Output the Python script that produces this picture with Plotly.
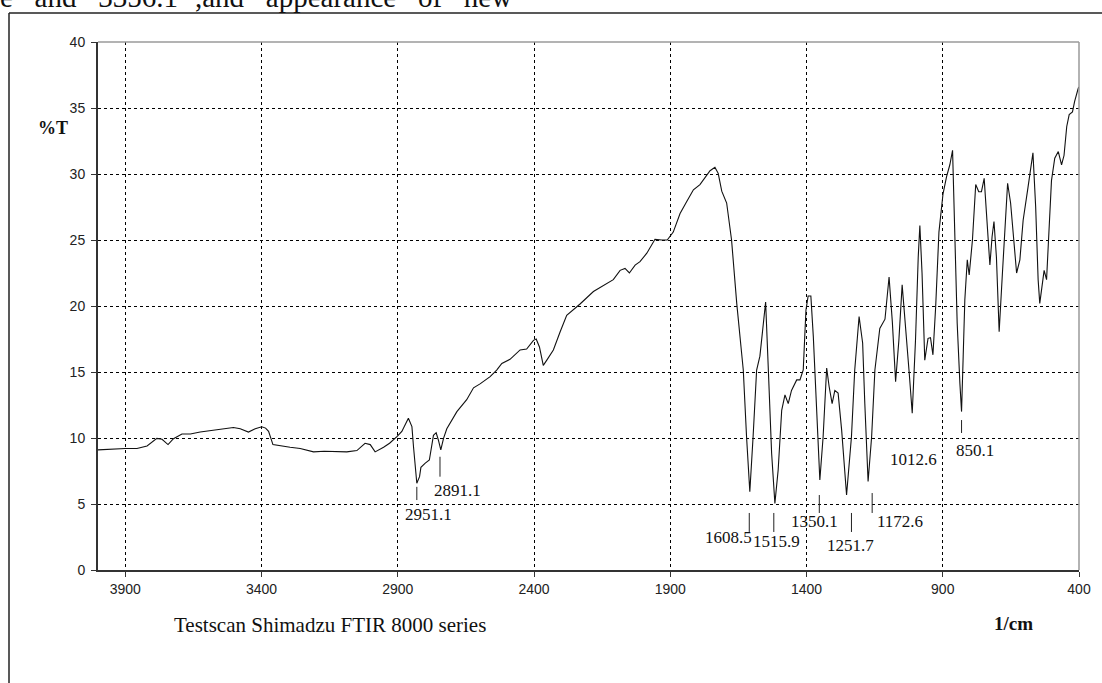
import plotly.graph_objects as go

# ---- spectrum ----
wavenumber = [4000, 3960, 3900, 3857, 3820, 3784, 3765, 3743, 3723, 3692, 3661, 3625, 3576, 3539,
              3503, 3478, 3448, 3423, 3399, 3385, 3374, 3358, 3331, 3295, 3258, 3209, 3170, 3136,
              3087, 3050, 3020, 3001, 2983, 2952, 2930, 2903, 2885, 2861, 2848, 2842, 2830, 2820,
              2815, 2800, 2784, 2769, 2759, 2751, 2742, 2732, 2720, 2683, 2647, 2622, 2598, 2561,
              2537, 2518, 2488, 2451, 2427, 2402, 2392, 2380, 2366, 2353, 2329, 2304, 2280, 2231,
              2182, 2109, 2084, 2066, 2050, 2029, 2011, 1986, 1956, 1931, 1911, 1889, 1864, 1840,
              1815, 1791, 1773, 1754, 1736, 1724, 1711, 1693, 1675, 1656, 1638, 1632, 1620, 1608,
              1596, 1583, 1571, 1559, 1550, 1540, 1528, 1516, 1504, 1491, 1479, 1467, 1455, 1436,
              1424, 1412, 1402, 1394, 1384, 1375, 1363, 1351, 1339, 1326, 1317, 1306, 1296, 1284,
              1271, 1253, 1235, 1223, 1207, 1194, 1186, 1174, 1161, 1149, 1131, 1112, 1097, 1085,
              1073, 1061, 1049, 1037, 1023, 1012, 1000, 990, 984, 976, 966, 954, 945, 936, 926,
              914, 899, 886, 874, 864, 856, 847, 837, 831, 825, 819, 810, 803, 791, 779, 768, 758,
              748, 739, 727, 719, 712, 703, 693, 681, 672, 662, 651, 642, 629, 617, 605, 587, 569,
              559, 550, 544, 534, 528, 519, 511, 501, 489, 476, 464, 455, 445, 436, 424, 416, 404, 401]
transmittance = [9.1, 9.15, 9.2, 9.2, 9.4, 9.97, 9.9, 9.5, 9.95, 10.3, 10.3, 10.45, 10.6, 10.7,
                 10.8, 10.7, 10.45, 10.7, 10.85, 10.75, 10.5, 9.5, 9.4, 9.3, 9.2, 8.95, 9.0, 9.0,
                 8.95, 9.05, 9.6, 9.5, 8.95, 9.3, 9.6, 10.1, 10.5, 11.5, 10.86, 9.3, 6.57, 7.07,
                 7.78, 8.08, 8.33, 10.2, 10.4, 9.85, 9.1, 9.97, 10.7, 12.0, 12.9, 13.8, 14.1, 14.65,
                 15.15, 15.65, 15.96, 16.67, 16.74, 17.4, 17.5, 16.9, 15.5, 15.9, 16.67, 18.05, 19.3, 20.15,
                 21.1, 22.0, 22.7, 22.85, 22.5, 23.1, 23.36, 24.0, 25.05, 25.0, 25.0, 25.6, 27.0, 27.9,
                 28.8, 29.2, 29.67, 30.25, 30.5, 30.05, 28.7, 27.8, 25.0, 20.2, 16.4, 15.15, 10.1, 5.93,
                 10.1, 15.15, 16.2, 18.4, 20.3, 15.15, 8.84, 5.05, 7.58, 12.1, 13.26, 12.6, 13.6, 14.4,
                 14.4, 15.15, 19.7, 20.76, 20.76, 17.7, 12.6, 6.82, 10.1, 15.3, 13.9, 12.6, 13.6, 13.4,
                 10.6, 5.68, 10.1, 15.15, 19.2, 17.2, 12.6, 6.7, 10.1, 15.15, 18.3, 19.0, 22.2, 18.8,
                 14.27, 17.4, 21.6, 18.7, 14.9, 11.87, 17.4, 23.7, 26.1, 22.5, 15.9, 17.55, 17.6, 16.3, 19.95,
                 25.6, 28.5, 29.8, 30.7, 31.8, 25.0, 18.7, 14.1, 12.0, 16.2, 20.45, 23.5, 22.35, 25.0, 29.2, 28.66, 28.66,
                 29.67, 26.8, 23.1, 25.25, 26.4, 23.7, 18.05, 22.5, 26.26, 29.3, 27.8, 25.76, 22.5, 23.5, 26.5, 29.0, 31.6,
                 27.5, 22.0, 20.2, 22.0, 22.7, 22.0, 25.0, 29.5, 31.2, 31.7, 30.7, 31.4, 33.6, 34.5, 34.7, 35.5, 36.4, 36.6]

# ---- peak labels ----
peak_labels = ["2951.1", "2891.1", "1608.5", "1515.9", "1350.1", "1251.7", "1172.6", "1012.6", "850.1"]
label_x = [2787, 2680, 1686, 1510, 1369, 1237, 1057, 1006, 781]
label_y = [4.17, 6.06, 2.5, 2.14, 3.66, 1.89, 3.66, 8.39, 9.04]
marker_x = [2830, 2745, 1610, 1520, 1353, 1235, 1159, None, 831]
marker_top = [6.3, 8.58, 4.32, 4.32, 5.68, 4.32, 5.83, None, 11.36]
marker_bottom = [5.3, 7.07, 2.88, 2.88, 4.32, 2.88, 4.32, None, 10.38]

x_ticks = [3900, 3400, 2900, 2400, 1900, 1400, 900, 400]
y_ticks = [0, 5, 10, 15, 20, 25, 30, 35, 40]

W, H = 1102, 683
L, R, T, B = 98, 23, 42, 113
PW, PH = W - L - R, H - T - B


def px(xp):
    return (xp - L) / PW


def py(yp):
    return (H - B - yp) / PH


fig = go.Figure()
fig.add_trace(go.Scatter(x=wavenumber, y=transmittance, mode="lines",
                         line=dict(color="#111111", width=1.1), hoverinfo="skip",
                         showlegend=False))

shapes = []
for mx, mt, mb in zip(marker_x, marker_top, marker_bottom):
    if mx is None:
        continue
    shapes.append(dict(type="line", xref="x", yref="y", x0=mx, x1=mx, y0=mt, y1=mb,
                       line=dict(color="#222222", width=1)))

# plot top / right border (grey)
shapes.append(dict(type="line", xref="paper", yref="paper", x0=0, x1=1, y0=1, y1=1,
                   line=dict(color="#9a9a9a", width=1.5)))
shapes.append(dict(type="line", xref="paper", yref="paper", x0=1, x1=1, y0=0, y1=1,
                   line=dict(color="#9a9a9a", width=1.5)))
# outer document frame
shapes.append(dict(type="line", xref="paper", yref="paper", x0=px(9), x1=px(1110),
                   y0=py(13), y1=py(13), line=dict(color="#222222", width=1.5)))
shapes.append(dict(type="line", xref="paper", yref="paper", x0=px(9), x1=px(9),
                   y0=py(13), y1=py(700), line=dict(color="#222222", width=1.5)))

annotations = []
serif = "Liberation Serif, Times New Roman, serif"
for t, lx, ly in zip(peak_labels, label_x, label_y):
    annotations.append(dict(x=lx, y=ly, xref="x", yref="y", text=t, showarrow=False,
                            font=dict(family=serif, size=17, color="#111111"),
                            xanchor="center", yanchor="middle"))

annotations.append(dict(x=px(53), y=py(128), xref="paper", yref="paper", text="<b>%T</b>",
                        showarrow=False, font=dict(family=serif, size=18, color="#111111"),
                        xanchor="center", yanchor="middle"))
annotations.append(dict(x=px(172), y=py(625), xref="paper", yref="paper",
                        text="Testscan Shimadzu FTIR 8000 series", showarrow=False,
                        font=dict(family=serif, size=21, color="#111111"),
                        xanchor="left", yanchor="middle"))
annotations.append(dict(x=px(1013), y=py(623), xref="paper", yref="paper", text="<b>1/cm</b>",
                        showarrow=False, font=dict(family=serif, size=19, color="#111111"),
                        xanchor="center", yanchor="middle"))
# cropped line of document text above the figure (only its lower part is visible)
sp = "\u00a0\u00a0\u00a0"
annotations.append(dict(x=px(-2), y=py(-5), xref="paper", yref="paper",
                        text=f"e{sp}and{sp}3356.1<sup>-1</sup>,and{sp}appearance{sp}of{sp}new",
                        showarrow=False,
                        font=dict(family=serif, size=29, color="#111111"),
                        xanchor="left", yanchor="middle"))

fig.update_layout(
    width=W, height=H, autosize=False,
    margin=dict(l=L, r=R, t=T, b=B, pad=0),
    paper_bgcolor="white", plot_bgcolor="white",
    shapes=shapes, annotations=annotations,
    font=dict(family="Liberation Sans, Arial, sans-serif", size=14, color="#222222"),
)
fig.update_xaxes(range=[4000, 400], tickvals=x_ticks, ticktext=[str(v) for v in x_ticks],
                 showgrid=True, gridcolor="#000000", gridwidth=1, griddash="3px,3px",
                 showline=True, linecolor="#333333", linewidth=2,
                 ticks="outside", ticklen=5, tickcolor="#333333", tickwidth=1,
                 zeroline=False, tickfont=dict(size=14, color="#222222"))
fig.update_yaxes(range=[0, 40], tickvals=y_ticks, ticktext=[str(v) for v in y_ticks],
                 showgrid=True, gridcolor="#000000", gridwidth=1, griddash="3px,3px",
                 showline=True, linecolor="#333333", linewidth=2,
                 ticks="outside", ticklen=5, tickcolor="#333333", tickwidth=1,
                 zeroline=False, tickfont=dict(size=14, color="#222222"), ticklabelstandoff=3)

fig.write_html("out.html", config={"displayModeBar": False},
               post_script="document.body.style.margin='0px';document.body.style.overflow='hidden';")
